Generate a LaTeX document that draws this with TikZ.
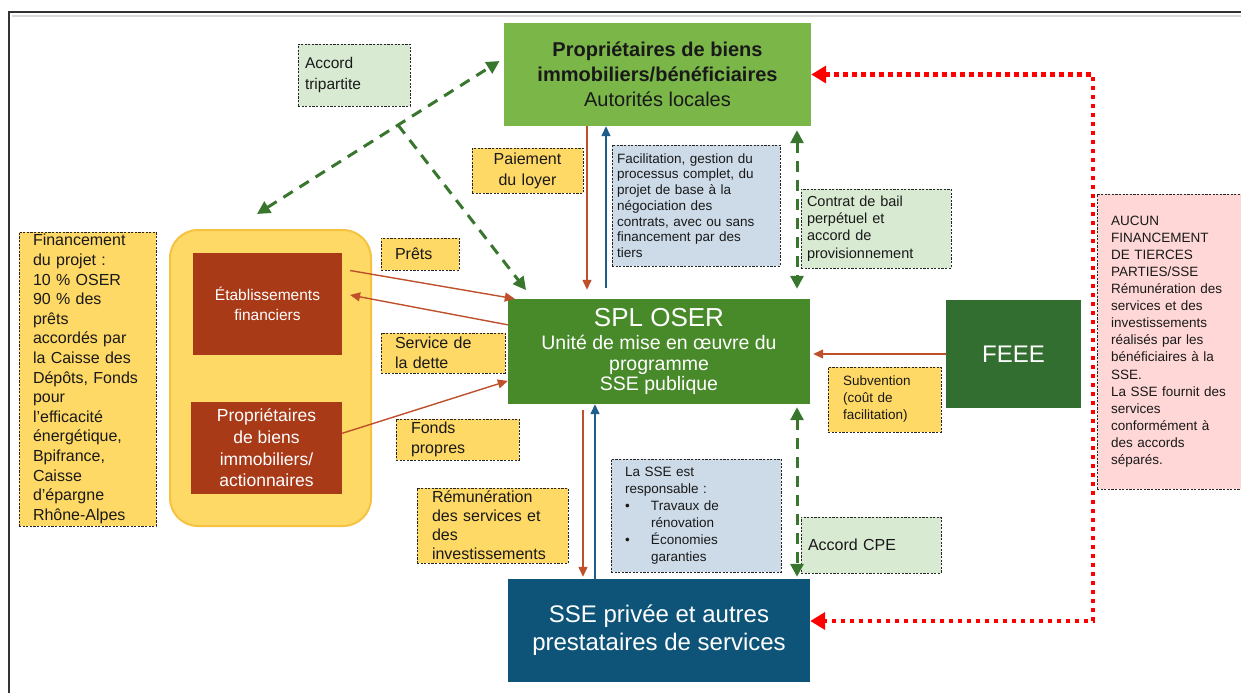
\documentclass[tikz,border=0pt]{standalone}
\usepackage{fontspec}
\setmainfont{Liberation Sans}
\usetikzlibrary{arrows.meta}
\definecolor{topgreen}{RGB}{122,182,72}
\definecolor{splgreen}{RGB}{72,138,42}
\definecolor{feeegreen}{RGB}{50,110,48}
\definecolor{sseblue}{RGB}{14,84,120}
\definecolor{rust}{RGB}{169,58,24}
\definecolor{lblyellow}{RGB}{255,217,102}
\definecolor{contborder}{RGB}{245,194,66}
\definecolor{lightgreen}{RGB}{217,234,211}
\definecolor{lightblue}{RGB}{205,219,233}
\definecolor{lightpink}{RGB}{255,215,215}
\definecolor{arrred}{RGB}{190,80,44}
\definecolor{arrblue}{RGB}{31,94,138}
\definecolor{dashgreen}{RGB}{56,118,46}

\begin{document}
\begin{tikzpicture}[x=1pt, y=-1pt,
    bigbox/.style={inner sep=0pt, align=center},
    lbl/.style={draw=black!85, dash pattern=on 2.2pt off 1.4pt, line width=0.9pt,
      inner ysep=0pt, align=left, text=black!90},
    redarr/.style={arrred, line width=1.4pt, >={Triangle[length=10pt,width=9pt]}},
    bluearr/.style={arrblue, line width=1.4pt, >={Triangle[length=10pt,width=9pt]}},
    gdash/.style={dashgreen, line width=3pt, dash pattern=on 11pt off 8pt,
      >={Triangle[length=13pt,width=13pt]}},
    rdot/.style={red, line width=4.5pt, dash pattern=on 4.5pt off 4.5pt,
      >={Triangle[length=15pt,width=17pt]}}]
    \useasboundingbox (0,0) rectangle (1241,693);
    \clip (0,0) rectangle (1241,693);

    \draw[black!15, line width=2pt] (12,16) -- (1241,16);
    \draw[black!80, line width=1.5pt] (9,693) -- (9,12) -- (1241,12);

    \node[bigbox, fill=topgreen, minimum width=307pt, minimum height=103pt, text=black!90,
      font=\fontsize{20}{25}\selectfont] (top) at (657.5,74.5)
      {\textbf{Propriétaires de biens}\\\textbf{immobiliers/bénéficiaires}\\Autorités locales};
    \node[bigbox, fill=splgreen, minimum width=302pt, minimum height=105pt, text=white,
      font=\fontsize{19.5}{20.5}\selectfont] (spl) at (659,351.5)
      {{\fontsize{26}{26}\selectfont SPL OSER}\\[3pt]Unité de mise en œuvre du\\programme\\SSE publique};
    \node[bigbox, fill=feeegreen, minimum width=135pt, minimum height=108pt, text=white,
      font=\fontsize{24}{28}\selectfont] (feee) at (1013.5,354) {FEEE};
    \node[bigbox, fill=sseblue, minimum width=302pt, minimum height=103pt, text=white,
      font=\fontsize{24}{28}\selectfont] (sse) at (659,630.5)
      {SSE privée et autres\\prestataires de services};

    \node[draw=contborder, line width=2pt, fill=lblyellow, rounded corners=28pt,
      minimum width=201pt, minimum height=296pt] (group) at (270.5,378) {};
    \node[bigbox, fill=rust, minimum width=149pt, minimum height=102pt, text=white,
      font=\fontsize{15.5}{19.5}\selectfont] (etab) at (267.5,304) {Établissements\\financiers};
    \node[bigbox, fill=rust, minimum width=151pt, minimum height=92pt, text=white,
      font=\fontsize{17.5}{21.7}\selectfont] (owners) at (266.5,448)
      {Propriétaires\\de biens\\immobiliers/\\actionnaires};

    \node[lbl, fill=lblyellow, text width=109pt, inner xsep=14pt, minimum height=294pt,
      font=\fontsize{16}{19.6}\selectfont] (finance) at (87.5,379)
      {Financement\\du projet~:\\10~\% OSER\\90~\% des\\prêts\\accordés par\\la Caisse des\\Dépôts, Fonds\\pour\\l'efficacité\\énergétique,\\Bpifrance,\\Caisse\\d'épargne\\Rhône-Alpes};
    \node[lbl, fill=lightgreen, text width=98pt, inner xsep=7pt, minimum height=62pt,
      font=\fontsize{15.5}{21}\selectfont] (tripartite) at (354,75) {Accord\\tripartite};
    \node[lbl, fill=lblyellow, text width=97pt, inner xsep=7pt, minimum height=45pt, align=center,
      font=\fontsize{16}{21}\selectfont] (loyer) at (527.5,170.5) {Paiement\\du loyer};
    \node[lbl, fill=lightblue, text width=158pt, inner xsep=5pt, minimum height=121pt,
      font=\fontsize{13.5}{15.7}\selectfont] (facil) at (696,205.5)
      {Facilitation, gestion du\\processus complet, du\\projet de base à la\\négociation des\\contrats, avec ou sans\\financement par des\\tiers};
    \node[lbl, fill=lightgreen, text width=138pt, inner xsep=6pt, minimum height=79pt,
      font=\fontsize{14.5}{17.3}\selectfont] (bail) at (876,228.5)
      {Contrat de bail\\perpétuel et\\accord de\\provisionnement};
    \node[lbl, fill=lblyellow, text width=50pt, inner xsep=14pt, minimum height=32pt,
      font=\fontsize{16}{20}\selectfont] (prets) at (420,254) {Prêts};
    \node[lbl, fill=lblyellow, text width=96pt, inner xsep=14pt, minimum height=40pt,
      font=\fontsize{16}{20}\selectfont] (dette) at (443,353) {Service de\\la dette};
    \node[lbl, fill=lblyellow, text width=93pt, inner xsep=15pt, minimum height=41pt,
      font=\fontsize{16}{20}\selectfont] (fonds) at (457.5,439.5) {Fonds\\propres};
    \node[lbl, fill=lblyellow, text width=121pt, inner xsep=15pt, minimum height=75pt,
      font=\fontsize{16}{19}\selectfont] (remun) at (492.5,525.5)
      {Rémunération\\des services et\\des\\investissements};
    \node[lbl, fill=lightblue, text width=142pt, inner xsep=14pt, minimum height=113pt,
      font=\fontsize{13.5}{17}\selectfont] (resp) at (696,515.5)
      {La SSE est\\responsable~:\\\makebox[26pt][l]{\textbullet}Travaux de\\\hspace*{26pt}rénovation\\\makebox[26pt][l]{\textbullet}Économies\\\hspace*{26pt}garanties};
    \node[lbl, fill=lightgreen, text width=126pt, inner xsep=7pt, minimum height=56pt,
      font=\fontsize{16}{20}\selectfont] (cpe) at (871,545) {Accord CPE};
    \node[lbl, fill=lblyellow, text width=83pt, inner xsep=15pt, minimum height=65pt,
      font=\fontsize{13.5}{17}\selectfont] (subv) at (884.5,399.5)
      {Subvention\\(coût de\\facilitation)};
    \node[lbl, fill=lightpink, text width=130pt, inner xsep=14pt, minimum height=295pt,
      font=\fontsize{13.5}{17.1}\selectfont] (noTPF) at (1176,341.5)
      {AUCUN\\FINANCEMENT\\DE TIERCES\\PARTIES/SSE\\Rémunération des\\services et des\\investissements\\réalisés par les\\bénéficiaires à la\\SSE.\\La SSE fournit des\\services\\conformément à\\des accords\\séparés.};

    \coordinate (tri) at (398,125);
    \coordinate (trileft) at (257,214);
    \draw[gdash,<->, shorten >=5pt] (trileft) -- (top.174);
    \draw[gdash,->, shorten >=11pt] (tri) -- ([xshift=25pt]spl.north west);

    \draw[redarr,->, shorten >=9pt] ([xshift=-70.5pt]top.south) -- ([xshift=-72pt]spl.north);
    \draw[bluearr,->, shorten <=11pt] ([xshift=-53pt]spl.north) -- ([xshift=-51.5pt]top.south);
    \draw[gdash,<->, shorten <=4pt, shorten >=10pt] ([xshift=139.5pt]top.south) -- ([xshift=138pt]spl.north);

    \draw[redarr,->, shorten <=6pt, shorten >=2pt] ([xshift=-76pt]spl.south) -- ([xshift=-76pt]sse.north);
    \draw[bluearr,->] ([xshift=-64pt]sse.north) -- ([xshift=-64pt]spl.south);
    \draw[gdash,<->, shorten <=3pt, shorten >=2pt] ([xshift=138pt]spl.south) -- ([xshift=138pt]sse.north);

    \draw[redarr,->, shorten <=8pt] (etab.25) -- ([xshift=7pt]spl.north west);
    \draw[redarr,->, shorten >=8pt] (spl.170) -- (etab.8);
    \draw[redarr,->] (owners.11) -- (spl.191);
    \draw[redarr,->, shorten >=3pt] (feee.west) -- (spl.east |- feee.west);

    \coordinate (bend) at (1093,74.5);
    \draw[rdot,<->] (top.east) -- (bend) |- ([yshift=9.5pt]sse.east);
  \end{tikzpicture}
\end{document}
